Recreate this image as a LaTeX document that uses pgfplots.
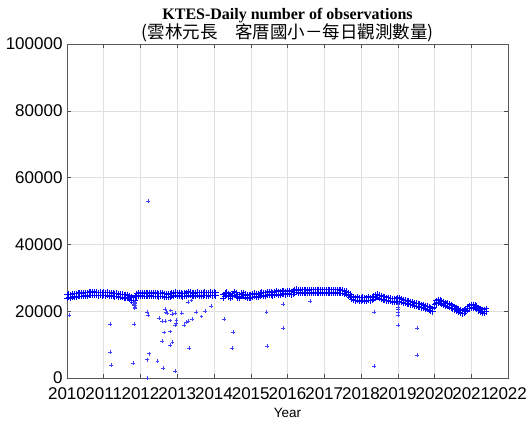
\documentclass[border=0pt]{standalone}
\usepackage{fontspec}
\setmainfont{Liberation Sans}
\newfontfamily\titlefont{Liberation Serif}
\newfontfamily\cjk{Noto Sans CJK TC}
\usepackage{pgfplots}
\pgfplotsset{compat=1.18}
\usepackage{pgfplotstable}

% daily counts, main band (lower / upper edge of the daily scatter)
\pgfplotstableread{
x lo hi
2010.00 23900 25000
2010.05 24100 25100
2010.10 23900 25000
2010.15 24200 25200
2010.20 24300 25300
2010.25 24100 25200
2010.30 24400 25400
2010.35 24500 25500
2010.40 24400 25400
2010.45 24500 25500
2010.50 24600 25600
2010.55 24500 25500
2010.60 24700 25700
2010.65 24800 25800
2010.70 24700 25700
2010.75 24800 25800
2010.80 24700 25700
2010.85 24600 25600
2010.90 24700 25700
2010.95 24600 25600
2011.00 24700 25700
2011.05 24600 25600
2011.10 24700 25700
2011.15 24500 25500
2011.20 24600 25600
2011.25 24400 25400
2011.30 24300 25300
2011.35 24400 25400
2011.40 24200 25200
2011.45 24100 25100
2011.50 24100 25100
2011.55 23900 24900
2011.60 24000 25000
2011.65 23800 24800
2011.70 23500 24600
2011.75 23100 24400
2011.80 22600 24000
2011.85 23200 24600
2011.90 24300 25300
2011.95 24500 25500
2012.00 24400 25400
2012.05 24600 25600
2012.10 24500 25500
2012.15 24400 25400
2012.20 24500 25500
2012.25 24600 25600
2012.30 24500 25500
2012.35 24400 25400
2012.40 24500 25500
2012.45 24400 25400
2012.50 24300 25300
2012.55 24400 25400
2012.60 24500 25500
2012.65 24300 25300
2012.70 24200 25200
2012.75 24100 25100
2012.80 24200 25200
2012.85 24400 25400
2012.90 24600 25600
2012.95 24700 25700
2013.00 24500 25500
2013.05 24600 25600
2013.10 24400 25400
2013.15 24300 25300
2013.20 24400 25400
2013.25 24600 25600
2013.30 24800 25800
2013.35 24700 25700
2013.40 24500 25500
2013.45 24400 25400
2013.50 24600 25600
2013.55 24700 25700
2013.60 24600 25600
2013.65 24500 25500
2013.70 24600 25600
2013.75 24700 25700
2013.80 24600 25600
2013.85 24500 25500
2013.90 24700 25700
2013.95 24600 25600
2014.00 24700 25700
2014.05 24600 25600
2014.25 23900 24900
2014.30 24400 25400
2014.35 24700 25700
2014.40 24300 25300
2014.45 23900 24900
2014.50 24300 25300
2014.55 24800 25800
2014.60 24500 25500
2014.65 24000 25000
2014.70 23900 24900
2014.75 24400 25400
2014.80 24600 25600
2014.85 24100 25100
2014.90 23800 24800
2014.95 23900 24900
2015.00 24000 25000
2015.05 24200 25200
2015.10 24400 25400
2015.15 24300 25300
2015.20 24100 25100
2015.25 24400 25400
2015.30 24700 25700
2015.35 24600 25600
2015.40 24500 25500
2015.45 24700 25700
2015.50 24900 25900
2015.55 24700 25700
2015.60 24600 25600
2015.65 24900 25900
2015.70 25100 26100
2015.75 24900 25900
2015.80 24800 25800
2015.85 25100 26100
2015.90 25200 26200
2015.95 24900 25900
2016.00 25000 26000
2016.05 25200 26200
2016.10 24900 25900
2016.15 25100 26100
2016.20 25500 26500
2016.25 25600 26600
2016.30 25400 26400
2016.35 25300 26300
2016.40 25400 26400
2016.45 25500 26500
2016.50 25400 26400
2016.55 25300 26300
2016.60 25400 26400
2016.65 25500 26500
2016.70 25400 26400
2016.75 25400 26400
2016.80 25500 26500
2016.85 25400 26400
2016.90 25400 26400
2016.95 25500 26500
2017.00 25500 26500
2017.05 25400 26400
2017.10 25500 26500
2017.15 25400 26400
2017.20 25500 26500
2017.25 25400 26400
2017.30 25400 26400
2017.35 25500 26500
2017.40 25400 26400
2017.45 25300 26300
2017.50 25300 26300
2017.55 25200 26200
2017.60 25000 26000
2017.65 24600 25600
2017.70 24100 25100
2017.75 23500 24500
2017.80 23200 24200
2017.85 23100 24100
2017.90 23300 24300
2017.95 23000 24000
2018.00 23100 24100
2018.05 23200 24200
2018.10 23000 24000
2018.15 23100 24100
2018.20 23300 24300
2018.25 23100 24100
2018.30 23200 24200
2018.35 23500 24500
2018.40 24000 25000
2018.45 24100 25100
2018.50 23800 24800
2018.55 23600 24600
2018.60 23400 24400
2018.65 23300 24300
2018.70 23100 24100
2018.75 23000 24000
2018.80 22900 23900
2018.85 22800 23800
2018.90 22700 23700
2018.95 22800 23800
2019.00 23000 24000
2019.05 22900 23900
2019.10 22700 23700
2019.15 22500 23500
2019.20 22300 23300
2019.25 22200 23200
2019.30 22000 23000
2019.35 21900 22900
2019.40 21700 22700
2019.45 21600 22600
2019.50 21400 22400
2019.55 21300 22300
2019.60 21200 22200
2019.65 21000 22000
2019.70 20900 21900
2019.75 20700 21700
2019.80 20500 21500
2019.85 20300 21300
2019.90 20000 21000
2019.95 19800 20800
2020.00 21100 22100
2020.05 22200 23200
2020.10 22500 23500
2020.15 22300 23300
2020.20 22000 23000
2020.25 21800 22800
2020.30 21600 22600
2020.35 21400 22400
2020.40 21200 22200
2020.45 20900 21900
2020.50 20700 21700
2020.55 20400 21400
2020.60 20100 21100
2020.65 19800 20800
2020.70 19500 20500
2020.75 19200 20200
2020.80 19400 20400
2020.85 19800 20800
2020.90 20300 21300
2020.95 20700 21700
2021.00 20900 21900
2021.05 21000 22000
2021.10 20800 21800
2021.15 20500 21500
2021.20 20100 21100
2021.25 19800 20800
2021.30 19500 20500
2021.35 19400 20400
2021.40 19800 20800
}\band

% days that fall away from the band
\pgfplotstableread{
x y
2010.05 18900
2011.17 16200
2011.17 7700
2011.19 3900
2011.83 16100
2011.80 4500
2011.82 22200
2011.83 21700
2011.84 21300
2011.85 21900
2011.86 22400
2011.84 21000
2011.85 22600
2011.83 22800
2012.17 19700
2012.20 18900
2012.24 7300
2012.17 5500
2012.19 0
2012.20 53000
2012.46 5100
2012.50 17900
2012.58 17100
2012.67 17100
2012.67 20600
2012.69 19800
2012.65 13600
2012.80 13900
2012.58 11100
2012.80 9900
2012.87 10700
2012.62 3000
2012.94 2000
2012.80 17200
2012.82 20200
2012.94 19400
2012.98 17400
2012.97 16400
2012.94 15900
2012.72 19400
2012.85 19200
2013.12 19400
2013.23 16700
2013.30 17100
2013.41 17600
2013.18 15900
2013.32 8900
2013.30 22800
2013.39 23200
2013.51 19800
2013.66 18400
2013.76 20000
2013.92 21500
2014.27 17600
2014.51 13700
2014.50 8900
2015.43 19800
2015.45 9600
2015.88 22100
2015.87 14900
2016.61 23100
2018.36 19800
2018.36 3600
2019.00 22100
2019.00 21300
2019.00 20500
2019.00 19600
2019.00 18800
2019.00 15900
2019.53 15000
2019.53 6900
}\outliers

\begin{document}
\begin{tikzpicture}
\begin{axis}[
    scale only axis,
    width=441bp, height=334bp,
    xmin=2010, xmax=2022, ymin=0, ymax=100000,
    xtick={2010,2011,...,2022},
    ytick={0,20000,40000,60000,80000,100000},
    scaled y ticks=false,
    /pgf/number format/1000 sep={},
    /pgf/number format/fixed,
    /pgf/number format/assume math mode=true,
    tick label style={font=\fontsize{17bp}{18bp}\selectfont, text=black},
    xticklabel shift=6bp,
    yticklabel shift=1bp,
    xlabel={Year},
    xlabel style={font=\fontsize{13.5bp}{15bp}\selectfont, yshift=-2bp},
    grid=major,
    grid style={black!12, line width=0.5pt},
    tick align=inside,
    major tick length=4bp,
    tick style={black!70, line width=0.5pt},
    axis line style={black!65, line width=0.6pt},
]
\addplot[only marks, mark=+, mark size=2.9bp, blue, line width=0.8pt] table[x=x, y=lo] {\band};
\addplot[only marks, mark=+, mark size=2.9bp, blue, line width=0.8pt] table[x=x, y=hi] {\band};
\addplot[only marks, mark=+, mark size=1.9bp, blue!75, line width=0.4pt] table[x=x, y=y] {\outliers};
\coordinate (bl) at (rel axis cs:0,0);
\coordinate (tc) at (rel axis cs:0.5,1);
\end{axis}
\node[anchor=base, font=\titlefont\bfseries\fontsize{16bp}{18bp}\selectfont] at ([yshift=24.5bp]tc) {KTES-Daily number of observations};
\node[anchor=base, font=\cjk\fontsize{17.5bp}{18bp}\selectfont] at ([yshift=5.5bp]tc) {(雲林元長　客厝國小－每日觀測數量)};
\pgfresetboundingbox
\path ([xshift=-67bp,yshift=-48bp]bl) rectangle ([xshift=459bp,yshift=378bp]bl);
\end{tikzpicture}
\end{document}
